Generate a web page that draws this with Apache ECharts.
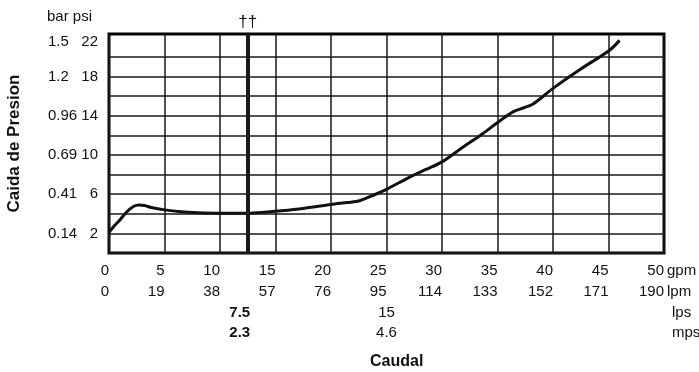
<!DOCTYPE html>
<html>
<head>
<meta charset="utf-8">
<script src="https://cdn.jsdelivr.net/npm/echarts@6/dist/echarts.min.js"></script>
<style>html,body{margin:0;padding:0;background:#fff}#c{width:699px;height:372px}</style>
</head>
<body>
<div id="c"></div>
<script>
// ---- data ----
const flowGpm     = [0, 0.5, 1, 1.6, 2.2, 2.7, 3.2, 3.8, 5, 6.5, 8, 10, 12.5, 14, 15.5, 17.5, 20, 21.5, 22.5, 23.5, 25, 27, 28.5, 30, 32, 33.7, 35.1, 36.4, 37.3, 38.2, 40, 42.4, 45.1, 46];
const pressurePsi = [2.1, 2.8, 3.4, 4.2, 4.75, 4.9, 4.85, 4.65, 4.4, 4.2, 4.1, 4.05, 4.05, 4.15, 4.3, 4.55, 4.95, 5.15, 5.3, 5.75, 6.5, 7.7, 8.5, 9.3, 10.9, 12.2, 13.4, 14.4, 14.8, 15.2, 16.8, 18.7, 20.7, 21.7];
const psiGridValues  = [0, 2, 4, 6, 8, 10, 12, 14, 16, 18, 20];
const psiLabelValues = [2, 6, 10, 14, 18, 22];
const barLabelTexts  = ['0.14', '0.41', '0.69', '0.96', '1.2', '1.5'];
const lpmLabels = ['0', '19', '38', '57', '76', '95', '114', '133', '152', '171', '190'];
const lpsValues = [12.5, 25];
const lpsLabels = ['7.5', '15'];
const mpsLabels = ['2.3', '4.6'];
const unitTexts = ['gpm', 'lpm', 'lps', 'mps'];
const markerGpm = 12.5;

const FONT = "'Liberation Sans', Arial, sans-serif";
const FS = 15;
const chart = echarts.init(document.getElementById('c'));
const baseLabel = {fontFamily: FONT, fontSize: FS, color: '#111'};
const hiddenAxis = {axisLine: {show: false}, axisTick: {show: false}, splitLine: {show: false}};

function rowFormatter(texts) {
  return function (v) {
    const i = lpsValues.indexOf(v);
    if (i < 0) return '';
    return i === 0 ? '{b|' + texts[i] + '}' : '{n|' + texts[i] + '}';
  };
}
const rowRich = {
  b: {fontFamily: FONT, fontSize: FS, fontWeight: 'bold', color: '#111', padding: [0, 16, 0, 0]},
  n: {fontFamily: FONT, fontSize: FS, color: '#111'}
};
// top label of each y column sits a little lower, as in the source
function yLabel(text, v) {
  return v === 22 ? '{t|' + text + '}' : text;
}
const yRich = {t: {fontFamily: FONT, fontSize: FS, color: '#111', padding: [9, 0, 0, 0]}};
const unitLeft = [667, 667, 672, 672];
const unitTop  = [263, 284, 305, 325];

chart.setOption({
  animation: false,
  title: [
    {text: 'bar psi', left: 47, top: 9, padding: 0, textStyle: {fontFamily: FONT, fontSize: FS, fontWeight: 'normal', color: '#111'}},
    {text: 'Caudal', left: 370, top: 354, padding: 0, textStyle: {fontFamily: FONT, fontSize: 16, fontWeight: 'bold', color: '#111'}}
  ].concat(unitTexts.map((t, i) => ({
    text: t, left: unitLeft[i], top: unitTop[i], padding: 0,
    textStyle: {fontFamily: FONT, fontSize: FS, fontWeight: 'normal', color: '#111'}
  }))),
  grid: {left: 109, right: 35, top: 34, bottom: 119, show: true, borderColor: '#000', borderWidth: 3,
         containLabel: false, outerBoundsMode: 'none'},
  xAxis: [
    Object.assign({}, hiddenAxis, {
      type: 'value', min: 0, max: 50, interval: 5, position: 'bottom',
      splitLine: {show: true, lineStyle: {color: '#1a1a1a', width: 1.5}},
      axisLabel: Object.assign({}, baseLabel, {align: 'right', margin: 10})
    }),
    Object.assign({}, hiddenAxis, {
      type: 'value', min: 0, max: 50, interval: 5, position: 'bottom', offset: 21,
      axisLabel: Object.assign({}, baseLabel, {align: 'right', margin: 10,
        formatter: v => lpmLabels[Math.round(v / 5)]})
    }),
    Object.assign({}, hiddenAxis, {
      type: 'value', min: 0, max: 50, interval: 12.5, position: 'bottom', offset: 42,
      axisLabel: Object.assign({}, baseLabel, {align: 'center', margin: 10, formatter: rowFormatter(lpsLabels), rich: rowRich})
    }),
    Object.assign({}, hiddenAxis, {
      type: 'value', min: 0, max: 50, interval: 12.5, position: 'bottom', offset: 62,
      axisLabel: Object.assign({}, baseLabel, {align: 'center', margin: 10, formatter: rowFormatter(mpsLabels), rich: rowRich})
    })
  ],
  yAxis: [
    {
      type: 'value', min: 0, max: 22.35, position: 'left',
      axisLine: {show: false},
      axisTick: {show: false, customValues: psiGridValues},
      splitLine: {show: true, lineStyle: {color: '#1a1a1a', width: 1.5}},
      axisLabel: Object.assign({}, baseLabel, {margin: 11, customValues: psiLabelValues,
        formatter: v => yLabel(String(v), v), rich: yRich})
    },
    {
      type: 'value', min: 0, max: 22.35, position: 'left',
      axisLine: {show: false},
      axisTick: {show: false, customValues: psiLabelValues},
      splitLine: {show: false},
      axisLabel: Object.assign({}, baseLabel, {margin: 61, align: 'left', customValues: psiLabelValues,
        formatter: v => yLabel(barLabelTexts[psiLabelValues.indexOf(v)], v), rich: yRich}),
      name: 'Caida de Presion', nameLocation: 'middle', nameGap: 86, nameRotate: 90,
      nameTextStyle: {fontFamily: FONT, fontSize: 17, fontWeight: 'bold', color: '#111'}
    }
  ],
  series: [{
    type: 'line',
    xAxisIndex: 0, yAxisIndex: 0,
    data: flowGpm.map((x, i) => [x, pressurePsi[i]]),
    smooth: 0.3,
    showSymbol: false,
    lineStyle: {color: '#111', width: 3},
    markLine: {
      silent: true, symbol: 'none',
      lineStyle: {color: '#1a1a1a', width: 4, type: 'solid'},
      label: {show: true, position: 'end', formatter: '††', fontFamily: FONT, fontSize: 17, color: '#111', distance: 3},
      data: [{xAxis: markerGpm}]
    }
  }]
});
</script>
</body>
</html>
